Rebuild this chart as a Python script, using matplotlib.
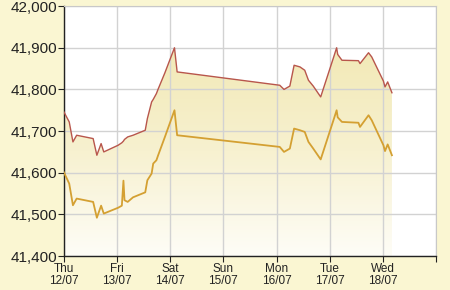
import numpy as np
import matplotlib.pyplot as plt
from matplotlib.colors import LinearSegmentedColormap

# time in days from Thu 12/07 00:00
days = [0.00, 0.10, 0.17, 0.24, 0.55, 0.62, 0.70, 0.75, 1.02, 1.09, 1.12, 1.14,
        1.20, 1.30, 1.53, 1.57, 1.65, 1.68, 1.74, 1.77, 1.90, 2.08, 2.13, 4.06,
        4.14, 4.25, 4.33, 4.44, 4.53, 4.60, 4.69, 4.83, 5.07, 5.13, 5.15, 5.23,
        5.54, 5.57, 5.73, 5.79, 6.01, 6.04, 6.09, 6.17]
sell = [41746, 41722, 41674, 41690, 41682, 41642, 41670, 41650, 41666, 41672, 41676, 41680,
        41686, 41690, 41702, 41730, 41770, 41776, 41790, 41800, 41840, 41900, 41842, 41810,
        41800, 41808, 41858, 41854, 41846, 41822, 41808, 41782, 41876, 41900, 41884, 41870,
        41869, 41862, 41888, 41878, 41820, 41806, 41818, 41792]
buy = [41601, 41574, 41522, 41538, 41530, 41492, 41521, 41502, 41516, 41521, 41581, 41534,
       41530, 41541, 41553, 41582, 41598, 41622, 41630, 41641, 41686, 41750, 41690, 41662,
       41650, 41658, 41706, 41702, 41698, 41674, 41658, 41632, 41726, 41750, 41733, 41722,
       41720, 41710, 41738, 41726, 41666, 41652, 41668, 41642]

day_labels = ['Thu\n12/07', 'Fri\n13/07', 'Sat\n14/07', 'Sun\n15/07',
              'Mon\n16/07', 'Tue\n17/07', 'Wed\n18/07', '']
y_ticks = [41400, 41500, 41600, 41700, 41800, 41900, 42000]

plt.rcParams['font.family'] = ['Liberation Sans', 'DejaVu Sans']

fig = plt.figure(figsize=(4.5, 2.9), dpi=100, facecolor='#faf6d2')
ax = fig.add_axes([0.142, 0.117, 0.827, 0.862])
ax.set_facecolor('white')

ymin, ymax = 41400, 42000
ax.set_xlim(0, 7)
ax.set_ylim(ymin, ymax)

# gradient fill under the sell line (grid shows through faintly)
poly = ax.fill_between(days, sell, ymin, facecolor='none', edgecolor='none')
cmap = LinearSegmentedColormap.from_list('g', ['#fefdf7', '#f7f1d0', '#f2e9b6'])
grad = np.linspace(0, 1, 256).reshape(-1, 1)
im = ax.imshow(grad, cmap=cmap, aspect='auto', origin='lower',
               extent=[0, 7, ymin, 41900], zorder=0.3)
path = poly.get_paths()[0]
im.set_clip_path(path, transform=ax.transData)

ax.plot(days, sell, color='#b8564c', lw=1.0, zorder=3)
ax.plot(days, buy, color='#d4a032', lw=1.3, zorder=3)

ax.set_yticks(y_ticks)
ax.set_yticklabels([f'{v:,}' for v in y_ticks])
ax.set_xticks(range(8))
ax.set_xticklabels(day_labels)
ax.set_axisbelow(True)
ax.grid(True, color='#d2d2d2', lw=1.0)

for s in ['top', 'right']:
    ax.spines[s].set_color('#c8c8c8')
for s in ['left', 'bottom']:
    ax.spines[s].set_color('#222222')
    ax.spines[s].set_linewidth(1.0)

ax.tick_params(axis='y', labelsize=11, length=4, pad=1, colors='#222222')
ax.tick_params(axis='x', labelsize=8.5, length=4, pad=1, colors='#222222')
for lbl in ax.get_xticklabels():
    lbl.set_linespacing(0.95)

fig.savefig('out.png', dpi=100, facecolor=fig.get_facecolor())
